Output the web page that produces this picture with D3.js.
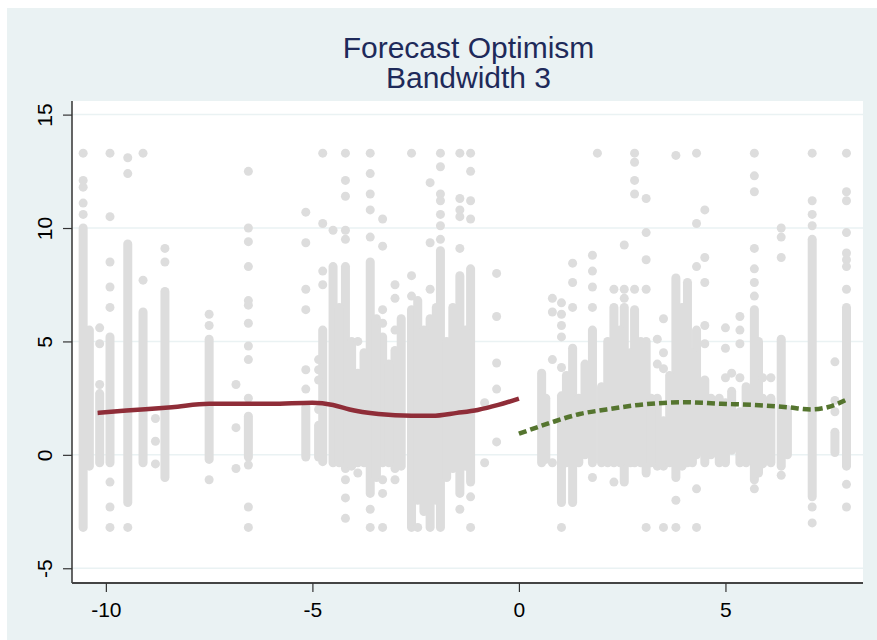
<!DOCTYPE html>
<html>
<head>
<meta charset="utf-8">
<script src="https://cdn.jsdelivr.net/npm/d3@7"></script>
<style>
  html, body { margin: 0; padding: 0; background: #ffffff; }
  svg { display: block; }
</style>
</head>
<body>
<svg id="chart" width="877" height="640"></svg>
<script>
// ---------- data ----------
const titleLines = ["Forecast Optimism", "Bandwidth 3"];
const xTicks = [-10, -5, 0, 5];
const yTicks = [-5, 0, 5, 10, 15];

// scatter columns: x position, dense vertical runs [ymin, ymax], isolated points
const colX = [
  -10.55, -10.4, -10.15, -9.9, -9.47, -9.1, -8.8, -8.57, -7.5, -6.85, -6.55,
  -5.16, -4.85, -4.75, -4.5, -4.2, -3.9, -3.6, -3.3, -3.0, -2.6, -2.45, -2.15, -1.9, -1.43, -1.17, -0.83, -0.54,
  0.55, 0.81, 1.03, 1.3, 1.78, 1.9, 2.3, 2.55, 2.8, 3.08, 3.35, 3.5, 3.8, 4.08, 4.3, 4.5,
  5.0, 5.15, 5.35, 5.7, 5.9, 6.1, 6.35, 7.1, 7.65, 7.93,
  // fill-in columns of the dense middle bands
  -4.35, -4.05, -3.75, -3.45, -3.15, -2.85, -2.3, -2.0, -1.75, -1.6, -1.3,
  0.65, 1.15, 1.45, 1.6, 2.0, 2.15, 2.45, 2.7, 2.95, 3.2, 3.65, 3.95, 4.2, 4.65, 4.85, 5.5, 5.8, 6.5
];
const colRuns = [
  [[-3.2, 10.0]], [[-0.5, 5.5]], [[-0.35, 2.7]], [[-0.35, 5.2]], [[-2.1, 9.3]], [[-0.35, 6.3]], [], [[-1.0, 7.2]], [[-0.2, 5.1]], [], [[-0.1, 1.7]],
  [[-0.1, 2.1]], [[-0.1, 1.3]], [[-0.3, 5.5]], [[-0.35, 8.3]], [[-0.6, 8.3]], [[-0.35, 3.6]], [[-1.7, 8.5]], [[-0.35, 5.2]], [[-0.6, 4.6]], [[-3.2, 6.4]], [[-2.0, 6.8]], [[-3.2, 6.0]], [[-3.2, 9.0]], [[-1.7, 7.9]], [[-1.2, 8.2]], [], [],
  [[-0.35, 3.6]], [], [[-2.1, 2.6]], [[-2.1, 4.7]], [[-0.35, 5.5]], [], [[-0.35, 6.5]], [[-1.2, 6.5]], [[-0.35, 6.4]], [[-0.8, 5.0]], [[-0.5, 2.5]], [[-0.5, 1.5]], [[-1.0, 7.8]], [[-0.35, 7.6]], [[0.0, 5.5]], [[-0.35, 3.3]],
  [[-0.35, 2.3]], [[0.2, 2.8]], [[-0.35, 1.9]], [[-1.1, 6.4]], [[-0.4, 2.5]], [[-0.35, 2.5]], [[-0.5, 5.1]], [[-1.85, 9.5]], [[0.1, 1.0]], [[-0.5, 6.5]],
  [[-0.35, 6.5]], [[-0.5, 5.0]], [[-0.35, 4.5]], [[-1.0, 6.0]], [[-0.35, 4.0]], [[-0.5, 6.0]], [[-2.5, 5.5]], [[-2.0, 6.5]], [[-1.0, 5.0]], [[-0.6, 6.5]], [[-0.5, 5.5]],
  [[-0.2, 2.5]], [[-0.35, 3.5]], [[-0.35, 2.5]], [[0.0, 4.0]], [[-0.35, 3.0]], [[-0.35, 5.0]], [[-0.35, 5.5]], [[-0.35, 4.5]], [[-0.35, 5.0]], [[-0.35, 2.5]], [[-0.35, 3.5]], [[-0.5, 6.5]], [[-0.35, 4.5]], [[0.0, 2.5]], [[-0.35, 2.5]], [[-0.35, 3.0]], [[-0.8, 5.0]], [[0.0, 2.0]], [[-0.35, 3.5]]
];
const colPts = [
  [10.6, 11.1, 11.8, 12.1, 13.3], [], [5.6, 4.9, 3.1], [13.3, 10.5, 8.5, 7.4, 6.5, -1.2, -2.3, -3.2], [13.1, 12.4, -3.2], [13.3, 7.7], [1.6, 0.6, -0.4], [9.1, 8.5], [6.2, 5.7, -1.1], [3.1, 1.2, -0.6], [12.5, 10.0, 9.4, 8.3, 6.8, 6.6, 5.8, 4.8, 4.2, 2.5, -0.45, -2.3, -3.2],
  [10.7, 9.35, 7.3, 6.4, 3.75, 2.9], [4.2, 3.75, 3.3, 2.0], [13.3, 10.2, 8.1, 7.5], [9.9], [13.3, 12.1, 11.4, 9.9, 9.5, -1.1, -1.9, -2.8], [5.0, -0.8], [13.3, 12.4, 11.5, 10.8, 9.6, -2.4, -3.2], [10.4, 9.2, 6.4, 5.8, -1.1, -1.7, -3.2], [7.5, 6.9, 5.5, -1.1], [13.3, 7.9, 7.0], [-3.2], [12.0, 9.35, 7.3], [13.3, 12.7, 11.5, 11.2, 10.6, 10.1, 9.5], [13.3, 11.3, 10.8, 10.5, 9.1, -2.4], [13.3, 12.5, 11.2, 10.4, -1.85, -3.2], [2.3, -0.35], [8.0, 6.1, 4.05, 2.9, 0.57],
  [], [6.9, 6.3, 4.2, -0.35], [6.7, 6.2, 5.7, 5.2, 3.85, -3.2], [8.45, 7.6, 6.5], [8.8, 8.1, 7.4, 6.5, -1.0], [13.3], [7.3, -1.2], [9.25, 7.3, 6.9], [13.3, 12.9, 12.1, 11.5, 7.3], [11.3, 9.8, 8.6, 7.3, -3.2], [5.1, 4.0], [6.0, 4.5, 3.8, -3.2], [13.2, -2.0, -3.2], [], [13.3, 10.2, 8.3, -1.5, -3.2], [10.8, 8.7, 7.6, 5.7, 4.9],
  [5.6, 4.7, 3.4], [3.6], [6.1, 5.5, 4.9, 3.4], [13.3, 12.3, 11.6, 9.1, 8.2, 7.6, 7.0, -1.5], [3.4], [3.4], [10.0, 9.6, 8.7, -0.9], [13.3, 11.2, 10.6, 10.1, -2.3, -3.0], [4.1, 2.4, 1.9], [13.3, 11.6, 11.2, 9.8, 8.9, 8.6, 8.3, 7.3, -1.3, -2.3],
  [], [], [], [], [], [], [], [], [], [], [],
  [], [], [], [], [], [], [], [], [], [], [], [], [], [], [], [], [], []
];

// local polynomial fits
const leftFitX = [-10.2, -9.5, -8.4, -7.5, -6.0, -5.0, -4.5, -4.1, -3.4, -2.6, -2.1, -1.5, -1.0, -0.5, 0.0];
const leftFitY = [1.85, 1.95, 2.1, 2.25, 2.25, 2.3, 2.2, 2.0, 1.8, 1.72, 1.72, 1.85, 1.98, 2.2, 2.48];
const rightFitX = [0.0, 0.74, 1.47, 2.12, 2.9, 4.0, 4.9, 5.7, 6.5, 7.08, 7.47, 7.95];
const rightFitY = [0.93, 1.4, 1.8, 2.0, 2.2, 2.32, 2.25, 2.2, 2.1, 2.0, 2.1, 2.45];

// ---------- drawing ----------
const svg = d3.select("#chart");
const W = 877, H = 640;
const plot = { left: 72, right: 863, top: 101, bottom: 583 };

svg.append("rect").attr("x", 7).attr("y", 8).attr("width", W - 7).attr("height", H - 8).attr("fill", "#EAF2F3");
svg.append("rect").attr("x", plot.left).attr("y", plot.top)
  .attr("width", plot.right - plot.left).attr("height", plot.bottom - plot.top).attr("fill", "#ffffff");

const x = d3.scaleLinear().domain([-10.82, 8.33]).range([plot.left, plot.right]);
const y = d3.scaleLinear().domain([-5.65, 15.6]).range([plot.bottom, plot.top]);

// gridlines
svg.append("g").selectAll("line").data(yTicks).join("line")
  .attr("x1", plot.left).attr("x2", plot.right)
  .attr("y1", d => y(d)).attr("y2", d => y(d))
  .attr("stroke", "#EAF2F3").attr("stroke-width", 1.5);

// scatter
const gray = "#DDDDDD";
const sc = svg.append("g");
const runs = [], pts = [];
colX.forEach((cx, i) => {
  colRuns[i].forEach(r => runs.push({ x: cx, y0: r[0], y1: r[1] }));
  colPts[i].forEach(v => pts.push({ x: cx, y: v }));
});
sc.selectAll("line").data(runs).join("line")
  .attr("x1", d => x(d.x)).attr("x2", d => x(d.x))
  .attr("y1", d => y(d.y0)).attr("y2", d => y(d.y1))
  .attr("stroke", gray).attr("stroke-width", 9).attr("stroke-linecap", "round");
sc.selectAll("circle").data(pts).join("circle")
  .attr("cx", d => x(d.x)).attr("cy", d => y(d.y)).attr("r", 4.5).attr("fill", gray);

// fit lines
const line = d3.line().x(d => x(d[0])).y(d => y(d[1])).curve(d3.curveMonotoneX);
svg.append("path").datum(d3.zip(leftFitX, leftFitY)).attr("d", line)
  .attr("fill", "none").attr("stroke", "#8F2D38").attr("stroke-width", 4.5);
svg.append("path").datum(d3.zip(rightFitX, rightFitY)).attr("d", line)
  .attr("fill", "none").attr("stroke", "#55752F").attr("stroke-width", 4.5)
  .attr("stroke-dasharray", "8,4");

// axes
const font = "'Liberation Sans', Arial, sans-serif";
const fmt = d => String(d);
const yAxis = svg.append("g").attr("transform", `translate(${plot.left},0)`)
  .call(d3.axisLeft(y).tickValues(yTicks).tickSize(9).tickFormat(fmt));
yAxis.select(".domain").attr("d", `M0,${plot.top}V${plot.bottom}`).attr("stroke", "#333").attr("stroke-width", 1.5);
yAxis.selectAll(".tick line").attr("stroke", "#333").attr("stroke-width", 1.2);
yAxis.selectAll(".tick text")
  .attr("x", null).attr("dy", null)
  .attr("transform", "translate(-20,0) rotate(-90)")
  .attr("text-anchor", "middle")
  .attr("font-family", font).attr("font-size", 21).attr("fill", "#000");

const xAxis = svg.append("g").attr("transform", `translate(0,${plot.bottom})`)
  .call(d3.axisBottom(x).tickValues(xTicks).tickSize(9).tickFormat(fmt));
xAxis.select(".domain").attr("d", `M${plot.left},0H${plot.right}`).attr("stroke", "#444").attr("stroke-width", 2);
xAxis.selectAll(".tick line").attr("stroke", "#333").attr("stroke-width", 1.2);
xAxis.selectAll(".tick text")
  .attr("y", 34).attr("dy", null)
  .attr("font-family", font).attr("font-size", 21).attr("fill", "#000");

// title
const cx = (plot.left + plot.right) / 2;
svg.append("text").attr("x", cx + 1).attr("y", 58).attr("text-anchor", "middle")
  .attr("font-family", font).attr("font-size", 30).attr("fill", "#1E2A5A").text(titleLines[0]);
svg.append("text").attr("x", cx + 1).attr("y", 88).attr("text-anchor", "middle")
  .attr("font-family", font).attr("font-size", 30).attr("fill", "#1E2A5A").text(titleLines[1]);
</script>
</body>
</html>
